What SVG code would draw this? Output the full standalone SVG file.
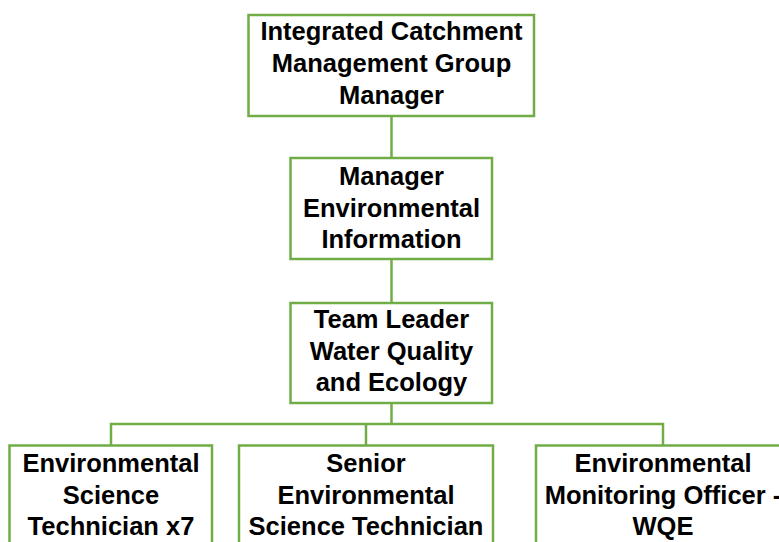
<svg xmlns="http://www.w3.org/2000/svg" width="779" height="542" viewBox="0 0 779 542">
<style>
.box{fill:#ffffff;stroke:#70AD47;stroke-width:2.5}
.con{fill:none;stroke:#70AD47;stroke-width:2.5}
text{font-family:"Liberation Sans",Arial,sans-serif;font-weight:bold;font-size:25.5px;fill:#000000;text-anchor:middle}
</style>
<rect width="779" height="542" fill="#ffffff"/>
<g id="connectors">
<path class="con" d="M391.5 116V158"/>
<path class="con" d="M391.5 259V303"/>
<path class="con" d="M391.5 403V424"/>
<path class="con" d="M111 445.5V424H663V445.5"/>
<path class="con" d="M366 424V445.5"/>
</g>
<g id="n1">
<rect class="box" x="248.5" y="15" width="285.5" height="101"/>
<text x="391.5" y="40">Integrated Catchment</text>
<text x="391.5" y="72">Management Group</text>
<text x="391.5" y="103.5">Manager</text>
</g>
<g id="n2">
<rect class="box" x="290.5" y="158" width="201.5" height="101"/>
<text x="391.5" y="185">Manager</text>
<text x="391.5" y="216.5">Environmental</text>
<text x="391.5" y="248">Information</text>
</g>
<g id="n3">
<rect class="box" x="290.5" y="303" width="201.5" height="100"/>
<text x="391.5" y="328">Team Leader</text>
<text x="391.5" y="359.5">Water Quality</text>
<text x="391.5" y="391">and Ecology</text>
</g>
<g id="n4">
<rect class="box" x="9.5" y="445.5" width="202.5" height="120"/>
<text x="111" y="472">Environmental</text>
<text x="111" y="503.5">Science</text>
<text x="111" y="535">Technician x7</text>
</g>
<g id="n5">
<rect class="box" x="239" y="445.5" width="254" height="120"/>
<text x="366" y="472">Senior</text>
<text x="366" y="503.5">Environmental</text>
<text x="366" y="535">Science Technician</text>
</g>
<g id="n6">
<rect class="box" x="536" y="445.5" width="254" height="120"/>
<text x="663" y="472">Environmental</text>
<text x="663" y="503.5">Monitoring Officer -</text>
<text x="663" y="535">WQE</text>
</g>
</svg>
